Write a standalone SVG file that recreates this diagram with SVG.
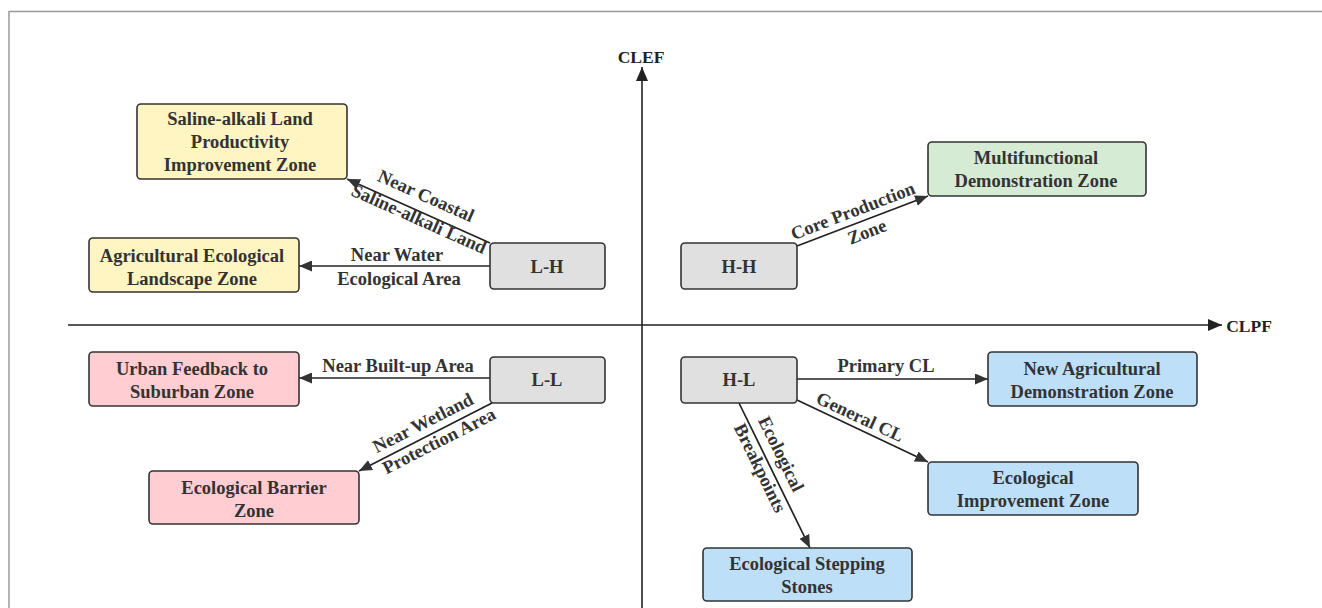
<svg xmlns="http://www.w3.org/2000/svg" width="1322" height="608" viewBox="0 0 1322 608">
<defs>
<marker id="ah" viewBox="0 0 13 11" refX="13" refY="5.5" markerWidth="13" markerHeight="11" markerUnits="userSpaceOnUse" orient="auto">
<path d="M0,0 L13,5.5 L0,11 Z" fill="#333"/>
</marker>
<marker id="axh" viewBox="0 0 14 12" refX="14" refY="6" markerWidth="14" markerHeight="12" markerUnits="userSpaceOnUse" orient="auto">
<path d="M0,0 L14,6 L0,12 Z" fill="#222"/>
</marker>
</defs>
<style>
text{font-family:"Liberation Serif","Times New Roman",serif;font-weight:bold;font-size:18.5px;fill:#333;text-anchor:middle;dominant-baseline:central}
.box{stroke:#333;stroke-width:1.6}
.g{fill:#e0e0e0}.y{fill:#fff5c2}.gr{fill:#d5ebd3}.p{fill:#ffcdd2}.b{fill:#bddff8}
.c{stroke:#222;stroke-width:1.7;fill:none;marker-end:url(#ah)}
.ax{stroke:#222;stroke-width:1.6;fill:none;marker-end:url(#axh)}
.axl{fill:#222;font-size:17.5px}
</style>
<rect width="1322" height="608" fill="#fff"/>
<path d="M9,608 V11.5 H1322" fill="none" stroke="#999" stroke-width="1.5"/>
<g id="axes">
<line class="ax" x1="642" y1="608" x2="642" y2="67"/>
<line class="ax" x1="68" y1="325" x2="1222" y2="325"/>
<text class="axl" x="641" y="57">CLEF</text>
<text class="axl" x="1249" y="326">CLPF</text>
</g>
<g id="connectors">
<line class="c" x1="490" y1="243" x2="347" y2="179"/>
<line class="c" x1="490" y1="266" x2="299" y2="266"/>
<line class="c" x1="797" y1="246" x2="928" y2="196"/>
<line class="c" x1="490" y1="378" x2="299" y2="378"/>
<line class="c" x1="492" y1="403" x2="359" y2="471"/>
<line class="c" x1="797" y1="379" x2="988" y2="379"/>
<line class="c" x1="797" y1="400" x2="928" y2="462"/>
<line class="c" x1="739" y1="403" x2="810" y2="548"/>
<text transform="translate(426,196) rotate(24)">Near Coastal</text>
<text transform="translate(419,219) rotate(24)">Saline-alkali Land</text>
<text x="397" y="255">Near Water</text>
<text x="399" y="279">Ecological Area</text>
<text transform="translate(853,211) rotate(-21)">Core Production</text>
<text transform="translate(867,232) rotate(-21)">Zone</text>
<text x="398" y="366">Near Built-up Area</text>
<text transform="translate(423,423) rotate(-27)">Near Wetland</text>
<text transform="translate(439,441) rotate(-27)">Protection Area</text>
<text x="886" y="366">Primary CL</text>
<text transform="translate(860,417) rotate(25)">General CL</text>
<text transform="translate(781,454) rotate(64)">Ecological</text>
<text transform="translate(760,468) rotate(64)">Breakpoints</text>
</g>
<g id="saline">
<rect class="box y" x="137" y="104" width="210" height="75" rx="4"/>
<text x="240" y="119">Saline-alkali Land</text>
<text x="240" y="142">Productivity</text>
<text x="240" y="165">Improvement Zone</text>
</g>
<g id="agri">
<rect class="box y" x="89" y="238" width="210" height="54" rx="4"/>
<text x="192" y="256">Agricultural Ecological</text>
<text x="192" y="279">Landscape Zone</text>
</g>
<g id="lh">
<rect class="box g" x="490" y="243" width="115" height="46" rx="4"/>
<text x="547" y="267">L-H</text>
</g>
<g id="hh">
<rect class="box g" x="681" y="243" width="116" height="46" rx="4"/>
<text x="739" y="267">H-H</text>
</g>
<g id="multi">
<rect class="box gr" x="928" y="142" width="218" height="54" rx="4"/>
<text x="1036" y="158">Multifunctional</text>
<text x="1036" y="181">Demonstration Zone</text>
</g>
<g id="ll">
<rect class="box g" x="490" y="357" width="115" height="46" rx="4"/>
<text x="547" y="380">L-L</text>
</g>
<g id="urban">
<rect class="box p" x="89" y="352" width="210" height="54" rx="4"/>
<text x="192" y="369">Urban Feedback to</text>
<text x="192" y="392">Suburban Zone</text>
</g>
<g id="barrier">
<rect class="box p" x="149" y="471" width="210" height="53" rx="4"/>
<text x="254" y="488">Ecological Barrier</text>
<text x="254" y="511">Zone</text>
</g>
<g id="hl">
<rect class="box g" x="681" y="357" width="116" height="46" rx="4"/>
<text x="739" y="380">H-L</text>
</g>
<g id="newagri">
<rect class="box b" x="988" y="352" width="209" height="54" rx="4"/>
<text x="1092" y="369">New Agricultural</text>
<text x="1092" y="392">Demonstration Zone</text>
</g>
<g id="ecoimp">
<rect class="box b" x="928" y="462" width="210" height="53" rx="4"/>
<text x="1033" y="478">Ecological</text>
<text x="1033" y="501">Improvement Zone</text>
</g>
<g id="stepping">
<rect class="box b" x="703" y="548" width="209" height="53" rx="4"/>
<text x="807" y="564">Ecological Stepping</text>
<text x="807" y="587">Stones</text>
</g>
</svg>
